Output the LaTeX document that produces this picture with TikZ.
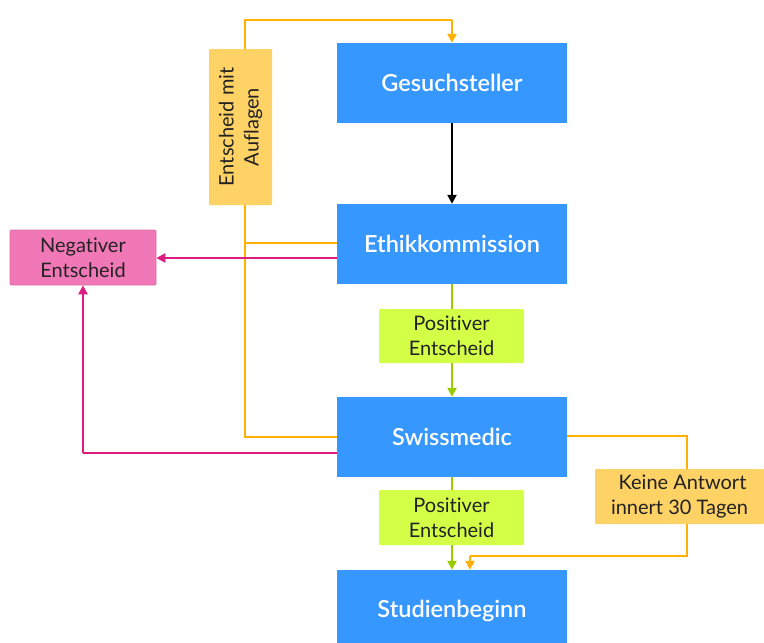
\documentclass[tikz,border=0pt]{standalone}
\usepackage{fontspec}
\setmainfont[Ligatures=NoCommon]{Lato}
\newfontfamily\boxfont[Ligatures=NoCommon]{Lato Semibold}
\usetikzlibrary{arrows.meta}
\definecolor{bluebox}{HTML}{3698FF}
\definecolor{pinkfill}{HTML}{F178B6}
\definecolor{pinkline}{HTML}{DC1C80}
\definecolor{greenfill}{HTML}{D4FF47}
\definecolor{greenline}{HTML}{99CC00}
\definecolor{orangeline}{HTML}{FFB000}
\definecolor{orangefill}{HTML}{FFD266}
\definecolor{textdark}{HTML}{222222}
\tikzset{
  x=1pt, y=-1pt,
  mainbox/.style={fill=bluebox, draw=none, minimum width=230pt, minimum height=80pt, text=white, font=\boxfont\fontsize{23.5}{28}\selectfont, inner sep=0pt},
  lbl/.style={draw=none, text=textdark, font=\fontsize{20}{25}\selectfont, align=center, inner sep=0pt, rounded corners=1pt},
  arr/.style={line width=2.4pt, -{Triangle[length=9pt,width=9pt]}},
  ln/.style={line width=2.4pt},
}
\begin{document}
\begin{tikzpicture}
\useasboundingbox (0,0) rectangle (764,643);
\begin{scope}
\clip (0,0) rectangle (764,643);
% main boxes
\node[mainbox] (ges) at (452,83) {Gesuchsteller};
\node[mainbox] (eth) at (452,244) {Ethikkommission};
\node[mainbox] (swm) at (452,437) {Swissmedic};
\node[mainbox, minimum height=82pt] (stu) at (452,611) {};
\node[text=white, font=\boxfont\fontsize{23.5}{28}\selectfont] (stut) at (452,611) {Studienbeginn};

% coordinates
\coordinate (ot1) at (245,20);
\coordinate (ot2) at (452,20);
\coordinate (oleft) at (245,437);
\coordinate (oeth) at (245,243);
\coordinate (mcorner) at (83,453);
\coordinate (or1) at (687,436);
\coordinate (or2) at (687,556);
\coordinate (or3) at (470,556);

% orange loop
\draw[ln, orangeline, line join=miter] (swm.west |- 0,437) -- (oleft) -- (ot1) -- (ot2);
\draw[arr, orangeline] (ot2) -- (ges.north);
\draw[ln, orangeline] (eth.west |- 0,243) -- (oeth);

% black
\draw[arr, black] (ges.south) -- (eth.north);

% labels
\node[lbl, fill=orangefill, minimum width=156pt, minimum height=63pt, rotate=90] (auf) at (240.5,127) {};
\node[lbl, rotate=90] (auft) at (240.5,127) {Entscheid mit\\Auflagen};
\node[lbl, fill=pinkfill, draw=pinkfill!90!black, line width=0.6pt, minimum width=146pt, minimum height=55pt] (neg) at (83,257.5) {Negativer\\Entscheid};
\node[lbl, fill=greenfill, minimum width=145pt, minimum height=54pt] (pos1) at (451.5,336) {Positiver\\Entscheid};
\node[lbl, fill=greenfill, minimum width=145pt, minimum height=55pt] (pos2) at (451.5,517.5) {Positiver\\Entscheid};
\node[lbl, fill=orangefill, minimum width=169pt, minimum height=55pt] (kein) at (679.5,496.5) {\hspace*{6pt}Keine Antwort\\innert 30 Tagen};

% magenta
\draw[arr, pinkline] (eth.west |- 0,258) -- (neg.east |- 0,258);
\draw[ln, pinkline] (swm.west |- 0,453) -- (mcorner);
\draw[arr, pinkline] (mcorner) -- (neg.south);

% green
\draw[ln, greenline] (eth.south) -- (pos1.north -| eth.south);
\draw[arr, greenline] (pos1.south -| swm.north) -- (swm.north);
\draw[ln, greenline] (swm.south) -- (pos2.north -| swm.south);
\draw[arr, greenline] (pos2.south -| stu.north) -- (stu.north);

% orange right
\draw[ln, orangeline] (swm.east |- or1) -- (or1) -- (kein.north -| or1);
\draw[ln, orangeline] (kein.south -| or2) -- (or2) -- (or3);
\draw[arr, orangeline] (or3) -- (stu.north -| or3);
\end{scope}
\end{tikzpicture}
\end{document}
